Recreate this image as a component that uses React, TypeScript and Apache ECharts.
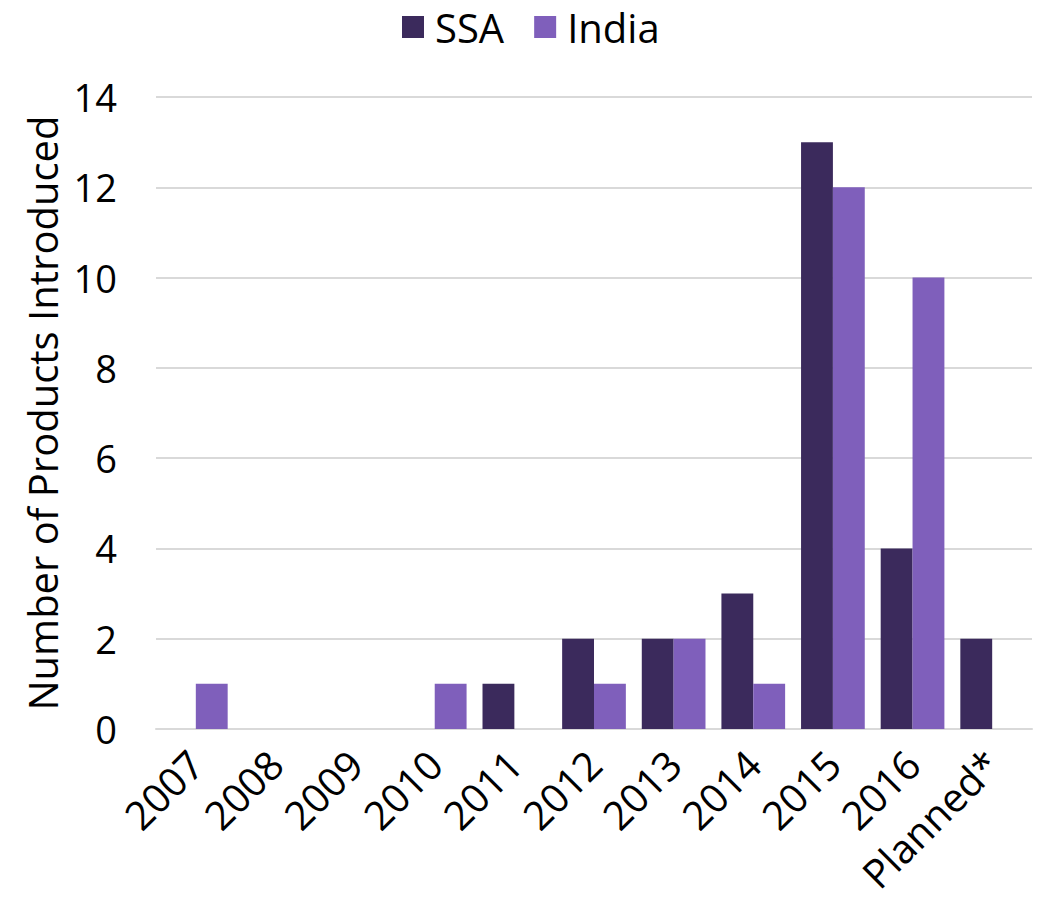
import React, { useEffect, useRef } from "react";
import * as echarts from "echarts";

const categories = ["2007", "2008", "2009", "2010", "2011", "2012", "2013", "2014", "2015", "2016", "Planned*"];
const ssaValues = [0, 0, 0, 0, 1, 2, 2, 3, 13, 4, 2];
const indiaValues = [1, 0, 0, 1, 0, 1, 2, 1, 12, 10, 0];
const yTicks = { min: 0, max: 14, interval: 2 };

const FONT = "'Open Sans', 'DejaVu Sans', sans-serif";

export default function App() {
  const ref = useRef<HTMLDivElement>(null);

  useEffect(() => {
    if (!ref.current) return;
    const chart = echarts.init(ref.current, undefined, { renderer: "svg" });
    chart.setOption({
      animation: false,
      textStyle: { fontFamily: FONT },
      legend: {
        top: 2,
        left: 397,
        itemWidth: 22,
        itemHeight: 22,
        itemGap: 30,
        icon: "rect",
        textStyle: { fontSize: 40, color: "#000", fontFamily: FONT, padding: [0, 0, 0, 6] },
        data: ["SSA", "India"],
      },
      grid: { left: 156, right: 6, top: 97, bottom: 171 },
      xAxis: {
        type: "category",
        data: categories,
        axisTick: { show: false },
        axisLine: { lineStyle: { color: "#d9d9d9", width: 2 } },
        axisLabel: {
          rotate: 45,
          interval: 0,
          margin: 28,
          fontSize: 40,
          color: "#000",
          fontFamily: FONT,
        },
      },
      yAxis: {
        type: "value",
        min: yTicks.min,
        max: yTicks.max,
        interval: yTicks.interval,
        name: "Number of Products Introduced",
        nameLocation: "middle",
        nameGap: 94,
        nameTextStyle: { fontSize: 40, color: "#000", fontFamily: FONT },
        axisLine: { show: false },
        axisTick: { show: false },
        axisLabel: { fontSize: 38, color: "#000", margin: 39, fontFamily: FONT },
        splitLine: { lineStyle: { color: "#d9d9d9", width: 2 } },
      },
      series: [
        {
          name: "SSA",
          type: "bar",
          data: ssaValues,
          itemStyle: { color: "#3b2a5c" },
          barGap: "0%",
          barCategoryGap: "20%",
        },
        {
          name: "India",
          type: "bar",
          data: indiaValues,
          itemStyle: { color: "#7f5fbb" },
          barGap: "0%",
          barCategoryGap: "20%",
        },
      ],
    });
    return () => chart.dispose();
  }, []);

  return (
    <div
      ref={ref}
      style={{ position: "absolute", left: 0, top: 0, width: 1038, height: 900, background: "#fff" }}
    />
  );
}
